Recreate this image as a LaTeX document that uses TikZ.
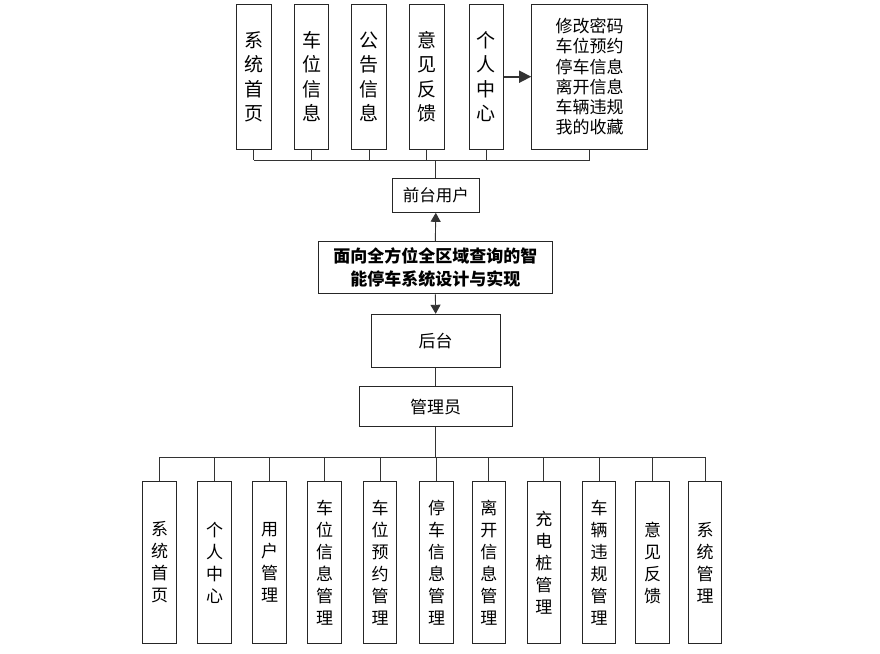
\documentclass[tikz,border=0pt]{standalone}
\usepackage{fontspec}
\setmainfont{Noto Sans CJK SC}
\usetikzlibrary{arrows.meta}

\tikzset{
  box/.style={draw=black!85, line width=1pt, fill=white, inner sep=0pt, align=center},
  colbox/.style={box, minimum width=34.5pt, minimum height=145pt, font=\fontsize{19}{24.5}\selectfont},
  subbox/.style={box, minimum width=33.5pt, minimum height=161.6pt, font=\fontsize{17}{22}\selectfont},
  link/.style={draw=black!80, line width=0.9pt},
  tip/.style={link, -{Triangle[length=9pt,width=10pt]}}
}

\begin{document}
\begin{tikzpicture}[x=1pt, y=-1pt]
    \useasboundingbox (0,0) rectangle (880,653);

    % Front-end modules
    \node[colbox] (t1) at (253.8,76.7) {系\\统\\首\\页};
    \node[colbox] (t2) at (311.5,76.7) {车\\位\\信\\息};
    \node[colbox] (t3) at (369.0,76.7) {公\\告\\信\\息};
    \node[colbox] (t4) at (426.8,76.7) {意\\见\\反\\馈};
    \node[colbox] (t5) at (486.3,76.7) {个\\人\\中\\心};
    \node[box, minimum width=115.6pt, minimum height=145pt, font=\fontsize{17}{20.3}\selectfont] (t6) at (589.5,76.7)
        {修改密码\\车位预约\\停车信息\\离开信息\\车辆违规\\我的收藏};

    % Middle chain
    \node[box, minimum width=87pt, minimum height=34pt, font=\fontsize{16.5}{20}\selectfont] (front) at (435.8,195.3) {前台用户};
    \node[box, minimum width=234pt, minimum height=52.3pt, font=\fontsize{17}{23}\selectfont\bfseries] (main) at (435.3,267.8)
        {面向全方位全区域查询的智\\能停车系统设计与实现};
    \node[box, minimum width=129.3pt, minimum height=53.4pt, font=\fontsize{17}{20}\selectfont] (back) at (435.7,341) {后台};
    \node[box, minimum width=153.3pt, minimum height=40pt, font=\fontsize{17}{20}\selectfont] (admin) at (435.7,406.7) {管理员};

    % Back-end modules
    \foreach \n/\x/\txt in {1/159.7/系\\统\\首\\页, 2/214.7/个\\人\\中\\心, 3/269.7/用\\户\\管\\理,
        4/324.7/车\\位\\信\\息\\管\\理, 5/380.2/车\\位\\预\\约\\管\\理, 6/436.7/停\\车\\信\\息\\管\\理,
        7/488.9/离\\开\\信\\息\\管\\理, 8/543.9/充\\电\\桩\\管\\理, 9/599.2/车\\辆\\违\\规\\管\\理,
        10/652.7/意\\见\\反\\馈, 11/705.0/系\\统\\管\\理}
        \node[subbox] (b\n) at (\x,562.5) {\txt};

    % Top bus
    \coordinate (topbus) at (435.8,160);
    \draw[link] (t1.south |- topbus) -- (t6.south |- topbus);
    \foreach \i in {1,...,6}
        \draw[link] (t\i.south) -- (t\i.south |- topbus);
    \draw[link] (topbus) -- (front.north);

    % Arrows
    \draw[tip, line width=1.6pt, -{Triangle[length=12pt,width=12pt]}] (t5.east) -- (t6.west);
    \draw[tip] (main.north) -- (front.south);
    \draw[tip] (main.south) -- (back.north);
    \draw[link] (back.south) -- (admin.north);

    % Bottom bus
    \coordinate (lowbus) at (435.7,457.3);
    \draw[link] (admin.south) -- (lowbus);
    \draw[link] (b1.north |- lowbus) -- (b11.north |- lowbus);
    \foreach \i in {1,...,11}
        \draw[link] (b\i.north |- lowbus) -- (b\i.north);
\end{tikzpicture}
\end{document}
